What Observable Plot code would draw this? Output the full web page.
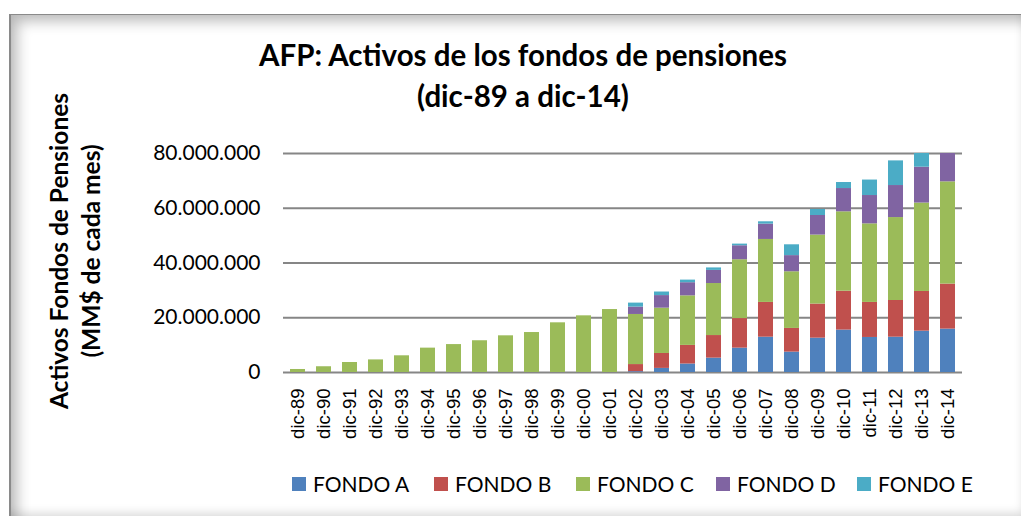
<!DOCTYPE html>
<html>
<head>
<meta charset="utf-8">
<script src="https://cdn.jsdelivr.net/npm/d3@7"></script>
<script src="https://cdn.jsdelivr.net/npm/@observablehq/plot@0.6"></script>
<style>
  html, body { margin: 0; padding: 0; background: #fff; width: 1021px; height: 516px; overflow: hidden; }
  #frame { position: absolute; left: 9px; top: 14px; width: 1010px; height: 502px;
    border-top: 1px solid #8a8a8a; border-left: 2px solid #8a8a8a; border-right: 1px solid #dcdcdc;
    box-shadow: inset 10px 10px 14px -4px rgba(0,0,0,0.28), inset -2px -8px 10px -4px rgba(0,0,0,0.15); background: #fff; }
  #chart { position: absolute; left: 0; top: 0; }
  .title { position: absolute; left: 0; width: 1046px; text-align: center; font-family: Lato, "Open Sans", sans-serif; font-weight: bold; font-size: 29.5px; line-height: 36px; color: #000; }
  .ytitle { position: absolute; font-family: Lato, "Open Sans", sans-serif; font-weight: bold; font-size: 24.5px; color: #000; white-space: nowrap; transform: translate(-50%, -50%) rotate(-90deg); }
  #legend { position: absolute; top: 471px; left: 0; }
  .item { position: absolute; display: flex; align-items: center; font-family: Lato, "Open Sans", sans-serif; font-size: 21px; color: #000; white-space: nowrap; }
  .sw { width: 14px; height: 14px; margin-right: 7px; }
</style>
</head>
<body>
<div id="frame"></div>
<div id="chart"></div>
<div class="title" style="top:37px;">AFP: Activos de los fondos de pensiones</div>
<div class="title" style="top:78px;">(dic-89 a dic-14)</div>
<div class="ytitle" style="left:58px; top:251px;">Activos Fondos de Pensiones</div>
<div class="ytitle" style="left:90px; top:251px;">(MM$ de cada mes)</div>
<div id="legend"></div>
<script>
// Data (millones de MM$)
const years = ["dic-89","dic-90","dic-91","dic-92","dic-93","dic-94","dic-95","dic-96","dic-97","dic-98","dic-99","dic-00","dic-01","dic-02","dic-03","dic-04","dic-05","dic-06","dic-07","dic-08","dic-09","dic-10","dic-11","dic-12","dic-13","dic-14"];
const fondos = ["FONDO A","FONDO B","FONDO C","FONDO D","FONDO E"];
const colors = ["#4F81BD","#C0504D","#9BBB59","#8064A2","#4BACC6"];
const fondoA = [0,0,0,0,0,0,0,0,0,0,0,0,0,0.3,1.5,3.1,5.25,8.9,12.9,7.45,12.55,15.5,12.8,12.9,15.1,15.85];
const fondoB = [0,0,0,0,0,0,0,0,0,0,0,0,0,2.6,5.45,6.8,8.25,10.8,12.7,8.65,12.45,14.2,12.8,13.4,14.5,16.45];
const fondoC = [1.1,2.1,3.65,4.6,6.1,8.9,10.2,11.6,13.4,14.6,18.15,20.7,23.0,18.3,16.55,18.1,19.0,21.5,23.0,20.7,25.2,29.0,28.7,30.3,32.3,37.35];
const fondoD = [0,0,0,0,0,0,0,0,0,0,0,0,0,2.7,4.6,4.8,4.8,5.1,5.6,5.9,7.15,8.5,10.35,11.7,13.1,12.5];
const fondoE = [0,0,0,0,0,0,0,0,0,0,0,0,0,1.45,1.3,0.95,0.9,0.6,0.85,3.95,2.2,2.2,5.65,9.0,7.0,8.0];
const yTicks = [0, 20000000, 40000000, 60000000, 80000000];

const series = [fondoA, fondoB, fondoC, fondoD, fondoE];
const table = [];
years.forEach((yr, i) => {
  fondos.forEach((f, j) => {
    table.push({year: yr, fondo: f, value: series[j][i] * 1e6});
  });
});

const locale = d3.formatLocale({decimal: ",", thousands: ".", grouping: [3], currency: ["$", ""]});
const fmt = locale.format(",d");

const chart = Plot.plot({
  width: 1021,
  height: 516,
  marginLeft: 283,
  marginRight: 59,
  marginTop: 153,
  marginBottom: 144,
  style: {background: "transparent", overflow: "visible"},
  x: {domain: years, paddingInner: 0.438, paddingOuter: 0.219, label: null},
  y: {domain: [0, 80000000], label: null},
  color: {domain: fondos, range: colors},
  marks: [
    Plot.gridY(yTicks, {stroke: "#868686", strokeWidth: 2, strokeOpacity: 1}),
    Plot.barY(table, {x: "year", y: "value", fill: "fondo", clip: true, inset: 0}),
    Plot.axisY(yTicks, {tickFormat: fmt, tickSize: 0, tickPadding: 23, fontSize: 21, fontFamily: "Lato, 'Open Sans', sans-serif", fill: "#000", label: null}),
    Plot.axisX({tickRotate: -90, tickSize: 0, tickPadding: 16, fontSize: 18.5, fontFamily: "'Liberation Sans', Arial, sans-serif", fill: "#000", label: null})
  ]
});
document.getElementById("chart").appendChild(chart);

// Legend
const legendX = [292, 434, 576, 716, 857];
const legend = document.getElementById("legend");
fondos.forEach((f, j) => {
  const it = document.createElement("div");
  it.className = "item";
  it.style.left = legendX[j] + "px";
  it.innerHTML = `<span class="sw" style="background:${colors[j]}"></span><span>${f}</span>`;
  legend.appendChild(it);
});
</script>
</body>
</html>
